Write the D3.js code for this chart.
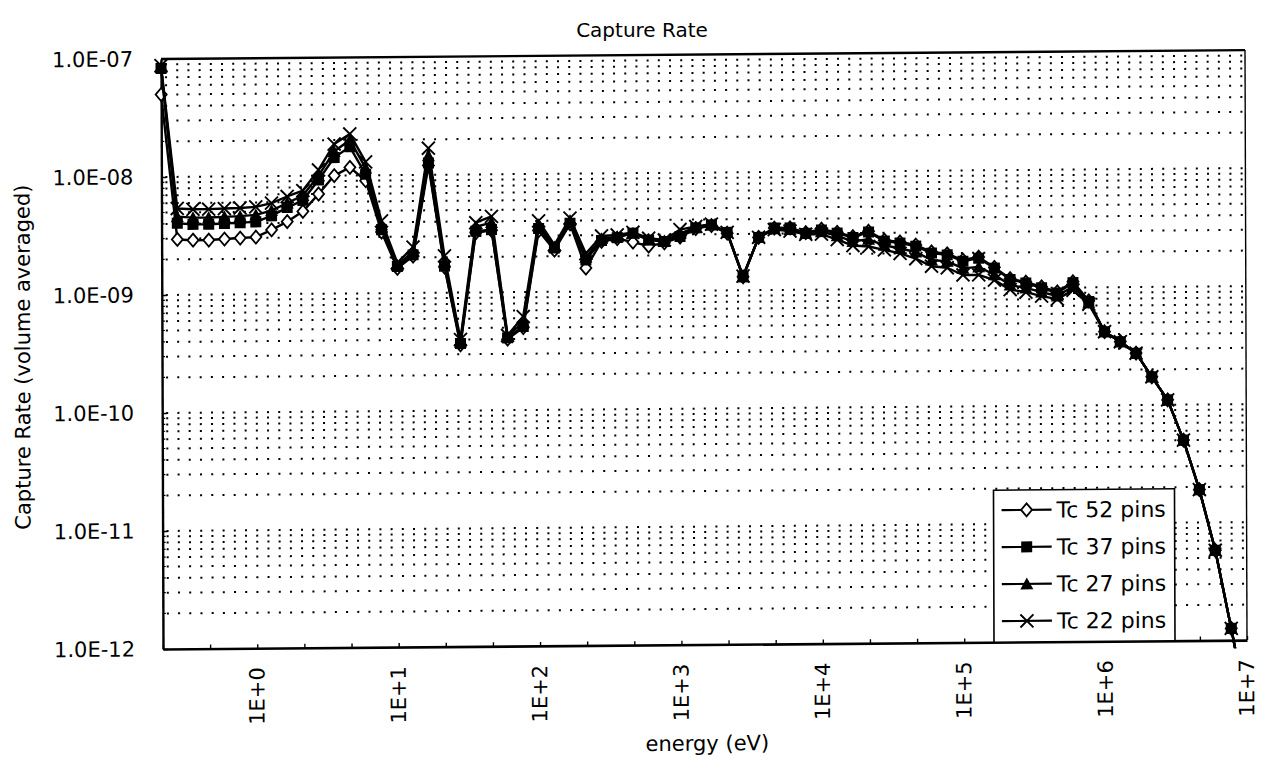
<!DOCTYPE html>
<html>
<head>
<meta charset="utf-8">
<script src="https://cdn.jsdelivr.net/npm/d3@7"></script>
<style>
  body { margin: 0; background: #fff; }
  text { font-family: "DejaVu Sans", sans-serif; fill: #000; }
</style>
</head>
<body>
<svg id="chart" width="1267" height="769"></svg>
<script>
// Energy group points (eV), 9 groups per decade
const energies = [
  2.154e-1, 2.783e-1, 3.594e-1, 4.642e-1, 5.995e-1, 7.743e-1,
  1e0, 1.292e0, 1.668e0, 2.154e0, 2.783e0, 3.594e0, 4.642e0, 5.995e0, 7.743e0,
  1e1, 1.292e1, 1.668e1, 2.154e1, 2.783e1, 3.594e1, 4.642e1, 5.995e1, 7.743e1,
  1e2, 1.292e2, 1.668e2, 2.154e2, 2.783e2, 3.594e2, 4.642e2, 5.995e2, 7.743e2,
  1e3, 1.292e3, 1.668e3, 2.154e3, 2.783e3, 3.594e3, 4.642e3, 5.995e3, 7.743e3,
  1e4, 1.292e4, 1.668e4, 2.154e4, 2.783e4, 3.594e4, 4.642e4, 5.995e4, 7.743e4,
  1e5, 1.292e5, 1.668e5, 2.154e5, 2.783e5, 3.594e5, 4.642e5, 5.995e5, 7.743e5,
  1e6, 1.292e6, 1.668e6, 2.154e6, 2.783e6, 3.594e6, 4.642e6, 5.995e6, 7.743e6,
  1e7
];

// Capture rate, volume averaged
const tc52 = [
  5.0e-8, 2.95e-9, 2.9e-9, 2.9e-9, 2.95e-9, 3.0e-9, 3.05e-9, 3.5e-9, 4.1e-9, 5.0e-9,
  7.0e-9, 1.0e-8, 1.17e-8, 9.0e-9, 3.3e-9, 1.62e-9, 2.05e-9, 1.2e-8, 1.65e-9, 3.6e-10,
  3.2e-9, 3.35e-9, 4.0e-10, 5.0e-10, 3.3e-9, 2.25e-9, 3.75e-9, 1.58e-9, 2.65e-9, 2.8e-9,
  2.6e-9, 2.4e-9, 2.55e-9, 2.85e-9, 3.35e-9, 3.55e-9, 3.05e-9, 1.3e-9, 2.8e-9, 3.35e-9,
  3.35e-9, 3.05e-9, 3.25e-9, 3.05e-9, 2.8e-9, 3.1e-9, 2.6e-9, 2.5e-9, 2.35e-9, 2.05e-9,
  1.97e-9, 1.74e-9, 1.84e-9, 1.5e-9, 1.2e-9, 1.12e-9, 1.02e-9, 9.2e-10, 1.12e-9, 7.7e-10,
  4.2e-10, 3.45e-10, 2.75e-10, 1.73e-10, 1.1e-10, 5.0e-11, 1.9e-11, 5.8e-12, 1.26e-12, 2.5e-13
];
const tc37 = [
  8.3e-8, 4.05e-9, 3.95e-9, 3.95e-9, 4.0e-9, 4.05e-9, 4.1e-9, 4.6e-9, 5.4e-9, 6.2e-9,
  9.2e-9, 1.42e-8, 1.75e-8, 1.02e-8, 3.45e-9, 1.68e-9, 2.1e-9, 1.26e-8, 1.68e-9, 3.7e-10,
  3.3e-9, 3.4e-9, 4.1e-10, 5.1e-10, 3.45e-9, 2.35e-9, 3.8e-9, 1.85e-9, 2.7e-9, 2.85e-9,
  3.1e-9, 2.7e-9, 2.62e-9, 2.88e-9, 3.4e-9, 3.6e-9, 3.1e-9, 1.3e-9, 2.8e-9, 3.35e-9,
  3.35e-9, 3.0e-9, 3.2e-9, 3.0e-9, 2.75e-9, 3.05e-9, 2.55e-9, 2.45e-9, 2.3e-9, 2.0e-9,
  1.93e-9, 1.7e-9, 1.8e-9, 1.48e-9, 1.18e-9, 1.1e-9, 1.0e-9, 9.0e-10, 1.1e-9, 7.6e-10,
  4.2e-10, 3.45e-10, 2.75e-10, 1.73e-10, 1.1e-10, 5.0e-11, 1.9e-11, 5.8e-12, 1.26e-12, 2.5e-13
];
const tc27 = [
  8.5e-8, 4.6e-9, 4.5e-9, 4.5e-9, 4.55e-9, 4.6e-9, 4.7e-9, 5.1e-9, 5.9e-9, 6.8e-9,
  1.0e-8, 1.6e-8, 2.0e-8, 1.15e-8, 3.8e-9, 1.72e-9, 2.25e-9, 1.45e-8, 1.85e-9, 3.8e-10,
  3.6e-9, 3.9e-9, 4.2e-10, 5.6e-10, 3.7e-9, 2.4e-9, 4.0e-9, 1.95e-9, 2.8e-9, 2.9e-9,
  3.1e-9, 2.75e-9, 2.65e-9, 3.05e-9, 3.45e-9, 3.6e-9, 3.1e-9, 1.3e-9, 2.8e-9, 3.3e-9,
  3.25e-9, 3.0e-9, 3.1e-9, 2.85e-9, 2.55e-9, 2.65e-9, 2.35e-9, 2.2e-9, 2.05e-9, 1.75e-9,
  1.7e-9, 1.48e-9, 1.52e-9, 1.3e-9, 1.06e-9, 1.0e-9, 9.2e-10, 8.5e-10, 1.02e-9, 7.4e-10,
  4.2e-10, 3.45e-10, 2.75e-10, 1.73e-10, 1.1e-10, 5.0e-11, 1.9e-11, 5.8e-12, 1.26e-12, 2.5e-13
];
const tc22 = [
  8.8e-8, 5.4e-9, 5.3e-9, 5.3e-9, 5.35e-9, 5.4e-9, 5.5e-9, 5.9e-9, 6.7e-9, 7.5e-9,
  1.12e-8, 1.85e-8, 2.25e-8, 1.3e-8, 4.1e-9, 1.8e-9, 2.45e-9, 1.68e-8, 2.05e-9, 4.0e-10,
  3.9e-9, 4.4e-9, 4.3e-10, 6.2e-10, 4.0e-9, 2.5e-9, 4.2e-9, 2.1e-9, 2.95e-9, 3.0e-9,
  3.15e-9, 2.8e-9, 2.7e-9, 3.3e-9, 3.5e-9, 3.65e-9, 3.1e-9, 1.32e-9, 2.8e-9, 3.25e-9,
  3.15e-9, 2.95e-9, 2.95e-9, 2.65e-9, 2.35e-9, 2.3e-9, 2.15e-9, 2.0e-9, 1.8e-9, 1.55e-9,
  1.5e-9, 1.3e-9, 1.3e-9, 1.17e-9, 9.7e-10, 9.2e-10, 8.5e-10, 8.0e-10, 9.5e-10, 7.2e-10,
  4.2e-10, 3.45e-10, 2.75e-10, 1.73e-10, 1.1e-10, 5.0e-11, 1.9e-11, 5.8e-12, 1.26e-12, 2.5e-13
];

const seriesNames = ["Tc 52 pins", "Tc 37 pins", "Tc 27 pins", "Tc 22 pins"];

const xTickValues = [1e0, 1e1, 1e2, 1e3, 1e4, 1e5, 1e6, 1e7];
const xTickLabels = ["1E+0", "1E+1", "1E+2", "1E+3", "1E+4", "1E+5", "1E+6", "1E+7"];
const yTickValues = [1e-7, 1e-8, 1e-9, 1e-10, 1e-11, 1e-12];
const yTickLabels = ["1.0E-07", "1.0E-08", "1.0E-09", "1.0E-10", "1.0E-11", "1.0E-12"];

const titleText = "Capture Rate";
const xTitle = "energy (eV)";
const yTitle = "Capture Rate (volume averaged)";

// ---- layout ----
const L = 161, T = 59, R = 1245, B = 649;
const FONT = 21;

const svg = d3.select("#chart");
// the whole sheet sits slightly skewed on the page
const root = svg.append("g")
  .attr("transform", `translate(${L},${T}) matrix(1,-0.0082,0.0034,1,0,0) translate(${-L},${-T})`);

const x = d3.scaleLog().domain([energies[0], energies[energies.length - 1]]).range([L, R]);
const y = d3.scaleLog().domain([1e-12, 1e-7]).range([B, T]);

// ---- dotted horizontal grid at every decade and sub-decade value ----
const gridValues = [];
for (let d = -12; d <= -8; d++) {
  for (let m = 1; m <= 9; m++) gridValues.push(m * Math.pow(10, d));
}
root.append("g").selectAll("line")
  .data(gridValues.filter(v => v > 1e-12 * 1.01))
  .join("line")
  .attr("x1", L + 4).attr("x2", R)
  .attr("y1", d => y(d)).attr("y2", d => y(d))
  .attr("stroke", "#000")
  .attr("stroke-width", 2)
  .attr("stroke-dasharray", "2 9.2");

// ---- frame ----
root.append("line").attr("x1", L).attr("x2", R).attr("y1", T).attr("y2", T)
  .attr("stroke", "#000").attr("stroke-width", 2.4);
root.append("line").attr("x1", R).attr("x2", R).attr("y1", T).attr("y2", B)
  .attr("stroke", "#000").attr("stroke-width", 1.4);

// ---- axes ----
const yAxis = d3.axisLeft(y)
  .tickValues(yTickValues)
  .tickFormat((d, i) => yTickLabels[i])
  .tickSizeInner(-5).tickSizeOuter(0).tickPadding(28);
const gy = root.append("g").attr("transform", `translate(${L},0)`).call(yAxis);
gy.select(".domain").attr("stroke-width", 2.4);
gy.selectAll(".tick line").attr("stroke-width", 1.5);
gy.selectAll(".tick text").attr("font-size", FONT).attr("font-family", "DejaVu Sans");

// minor ticks on the value axis
root.append("g").selectAll("line")
  .data(gridValues.filter(v => !yTickValues.some(t => Math.abs(Math.log10(t) - Math.log10(v)) < 1e-6)))
  .join("line")
  .attr("x1", L).attr("x2", L + 3)
  .attr("y1", d => y(d)).attr("y2", d => y(d))
  .attr("stroke", "#000").attr("stroke-width", 1.2);

// category ticks every third group on the energy axis
const tickEnergies = energies.filter((e, i) => i % 3 === 0);
const xAxis = d3.axisBottom(x)
  .tickValues(tickEnergies)
  .tickFormat("")
  .tickSizeInner(-4).tickSizeOuter(0);
const gx = root.append("g").attr("transform", `translate(0,${B})`).call(xAxis);
gx.select(".domain").attr("stroke-width", 2.6);
gx.selectAll(".tick line").attr("stroke-width", 1.4);

// rotated decade labels
root.append("g").selectAll("text")
  .data(xTickValues)
  .join("text")
  .attr("transform", d => `translate(${x(d) + 7},${B + 19}) rotate(-90)`)
  .attr("text-anchor", "end")
  .attr("font-size", FONT)
  .text((d, i) => xTickLabels[i]);

// ---- titles ----
svg.append("text")
  .attr("x", 642).attr("y", 37)
  .attr("text-anchor", "middle")
  .attr("font-size", 20)
  .text(titleText);
root.append("text")
  .attr("x", 705).attr("y", 755)
  .attr("text-anchor", "middle")
  .attr("font-size", FONT)
  .text(xTitle);
root.append("text")
  .attr("transform", `translate(29,356) rotate(-90)`)
  .attr("text-anchor", "middle")
  .attr("font-size", FONT)
  .text(yTitle);

// ---- series ----
svg.append("defs").append("clipPath").attr("id", "plotClip")
  .append("rect").attr("x", L - 12).attr("y", T - 12)
  .attr("width", R - L + 24).attr("height", B - T + 20);

const markers = {
  diamond: g => g.append("path").attr("d", "M0,-6.5L5.5,0L0,6.5L-5.5,0Z")
    .attr("fill", "#fff").attr("stroke", "#000").attr("stroke-width", 1.8),
  square: g => g.append("rect").attr("x", -5.5).attr("y", -5.5).attr("width", 11).attr("height", 11)
    .attr("fill", "#000"),
  triangle: g => g.append("path").attr("d", "M0,-6.5L6.5,5.5L-6.5,5.5Z").attr("fill", "#000"),
  cross: g => g.append("path").attr("d", "M-6.5,-6.5L6.5,6.5M-6.5,6.5L6.5,-6.5")
    .attr("stroke", "#000").attr("stroke-width", 1.9).attr("fill", "none")
};

const series = [
  { name: seriesNames[0], values: tc52, marker: "diamond" },
  { name: seriesNames[2], values: tc27, marker: "triangle" },
  { name: seriesNames[1], values: tc37, marker: "square" },
  { name: seriesNames[3], values: tc22, marker: "cross" }
];

const line = d3.line().x(d => x(d[0])).y(d => y(d[1]));
const plot = root.append("g").attr("clip-path", "url(#plotClip)");

series.forEach(s => {
  const pts = energies.map((e, i) => [e, s.values[i]]);
  plot.append("path").datum(pts)
    .attr("d", line)
    .attr("fill", "none").attr("stroke", "#000").attr("stroke-width", 2.4)
    .attr("stroke-linejoin", "round");
  plot.append("g").selectAll("g")
    .data(pts.filter(p => p[1] >= 1e-12))
    .join("g")
    .attr("transform", p => `translate(${x(p[0])},${y(p[1])})`)
    .each(function () { markers[s.marker](d3.select(this)); });
});

// ---- legend ----
const legend = root.append("g");
const lgX = 992, lgY = 497, lgW = 181, lgH = B - 497;
legend.append("rect").attr("x", lgX).attr("y", lgY).attr("width", lgW).attr("height", lgH)
  .attr("fill", "#fff").attr("stroke", "#000").attr("stroke-width", 1.6);
const legendOrder = [
  { name: seriesNames[0], marker: "diamond" },
  { name: seriesNames[1], marker: "square" },
  { name: seriesNames[2], marker: "triangle" },
  { name: seriesNames[3], marker: "cross" }
];
legendOrder.forEach((s, i) => {
  const cy = lgY + 20 + i * 37;
  legend.append("line").attr("x1", lgX + 8).attr("x2", lgX + 58).attr("y1", cy).attr("y2", cy)
    .attr("stroke", "#000").attr("stroke-width", 2.2);
  markers[s.marker](legend.append("g").attr("transform", `translate(${lgX + 33},${cy})`));
  legend.append("text").attr("x", lgX + 63).attr("y", cy).attr("dy", "0.36em")
    .attr("font-size", FONT + 1).text(s.name);
});
</script>
</body>
</html>
